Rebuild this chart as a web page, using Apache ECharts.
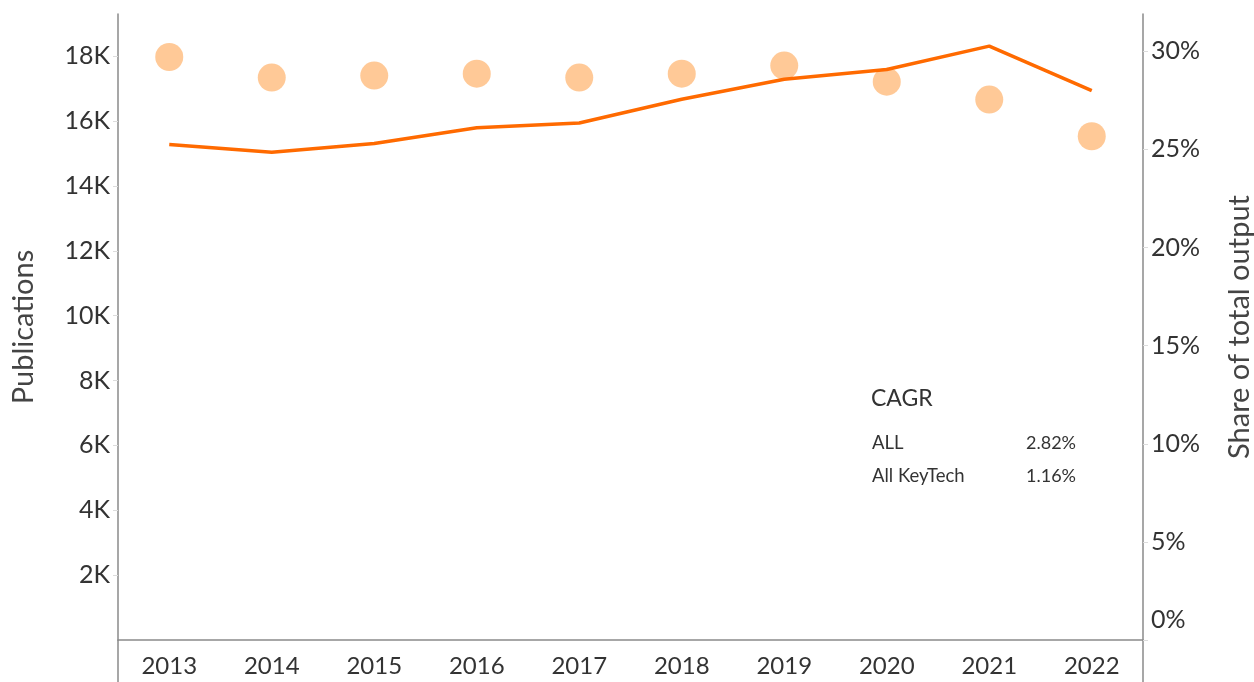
<!DOCTYPE html>
<html>
<head>
<meta charset="utf-8">
<script src="https://cdn.jsdelivr.net/npm/echarts@6/dist/echarts.min.js"></script>
<style>
html,body{margin:0;padding:0;background:#fff;}
#chart{width:1254px;height:682px;}
</style>
</head>
<body>
<div id="chart"></div>
<script>
const years = ['2013','2014','2015','2016','2017','2018','2019','2020','2021','2022'];
const publications = [15280, 15040, 15310, 15790, 15940, 16670, 17290, 17590, 18310, 16940];
const sharePct = [29.71, 28.66, 28.76, 28.86, 28.66, 28.86, 29.27, 28.45, 27.54, 25.67];
const cagrTitle = 'CAGR';
const cagrLabels = ['ALL', 'All KeyTech'];
const cagrValues = ['2.82%', '1.16%'];

const W = 1254, H = 682;
const GL = 118, GR = 111, GT = 14, GB = 42;
const FONT = 'Lato, "Open Sans", sans-serif';
const TXT = '#333';
const AXC = '#8a8a8a';

const chart = echarts.init(document.getElementById('chart'), null, {renderer: 'canvas'});

const graphics = [
  {type: 'line', shape: {x1: GL, y1: H - GB, x2: GL, y2: H}, style: {stroke: AXC, lineWidth: 1.5}},
  {type: 'line', shape: {x1: W - GR, y1: H - GB, x2: W - GR, y2: H}, style: {stroke: AXC, lineWidth: 1.5}},
  {type: 'text', left: 871, top: 387, style: {text: cagrTitle, fontSize: 23, fill: TXT, fontFamily: FONT}}
];
cagrLabels.forEach((lab, i) => {
  graphics.push({type: 'text', left: 872, top: 434 + i * 33, style: {text: lab, fontSize: 18.5, fill: TXT, fontFamily: FONT}});
  graphics.push({type: 'text', right: W - 1076, top: 434 + i * 33, style: {text: cagrValues[i], fontSize: 18, fill: TXT, fontFamily: FONT, align: 'right'}});
});

chart.setOption({
  backgroundColor: '#fff',
  animation: false,
  textStyle: {fontFamily: FONT},
  grid: {left: GL, right: GR, top: GT, bottom: GB, containLabel: false, outerBoundsMode: 'none'},
  xAxis: {
    type: 'category',
    data: years,
    boundaryGap: true,
    axisLine: {lineStyle: {color: AXC, width: 1.5}},
    axisTick: {show: false},
    axisLabel: {color: TXT, fontSize: 24, margin: 14, fontFamily: FONT},
    splitLine: {show: false},
    splitArea: {show: false}
  },
  yAxis: [
    {
      type: 'value',
      min: 0, max: 19300, interval: 2000,
      name: 'Publications',
      nameLocation: 'middle',
      nameGap: 80,
      nameTextStyle: {fontSize: 29, color: '#444', fontFamily: FONT},
      axisLine: {show: true, lineStyle: {color: AXC, width: 1.5}},
      axisTick: {show: true, length: 5, lineStyle: {color: '#dcdcdc'}},
      axisLabel: {
        color: TXT, fontSize: 25, margin: 8, fontFamily: FONT,
        showMinLabel: false, showMaxLabel: false,
        formatter: v => (v / 1000) + 'K'
      },
      splitLine: {show: false},
      splitArea: {show: false}
    },
    {
      type: 'value',
      min: 0, max: 31.9, interval: 5,
      position: 'right',
      name: 'Share of total output',
      nameLocation: 'middle',
      nameGap: 82,
      nameTextStyle: {fontSize: 29, color: '#444', fontFamily: FONT},
      axisLine: {show: true, lineStyle: {color: AXC, width: 1.5}},
      axisTick: {show: true, length: 5, lineStyle: {color: '#dcdcdc'}},
      axisLabel: {
        color: TXT, fontSize: 25, margin: 8, fontFamily: FONT,
        showMaxLabel: false,
        formatter: v => v === 0 ? '{z|0%}' : v + '%',
        rich: {z: {fontSize: 25, color: TXT, fontFamily: FONT, padding: [0, 0, 40, 0]}}
      },
      splitLine: {show: false},
      splitArea: {show: false}
    }
  ],
  series: [
    {
      name: 'Share',
      type: 'scatter',
      yAxisIndex: 1,
      data: sharePct,
      symbol: 'circle',
      symbolSize: 28,
      itemStyle: {color: '#FFBC7D'},
      z: 2
    },
    {
      name: 'Publications',
      type: 'line',
      yAxisIndex: 0,
      data: publications,
      showSymbol: false,
      symbol: 'none',
      lineStyle: {color: '#FF6A00', width: 3.5},
      z: 3
    }
  ],
  graphic: graphics
});
</script>
</body>
</html>
